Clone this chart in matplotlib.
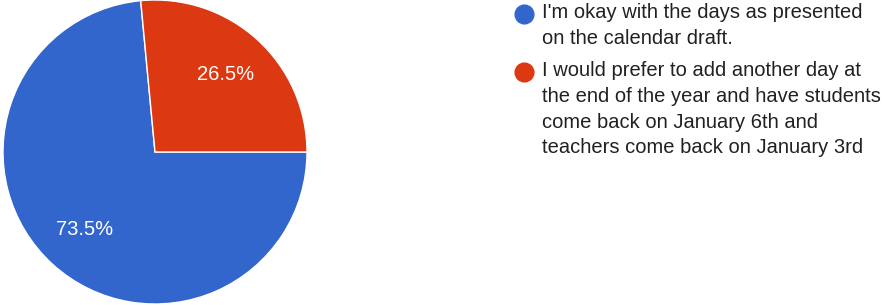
# survey pie chart with wrapped legend on the right

import matplotlib.pyplot as plt

plt.rcParams['font.family'] = ['Liberation Sans', 'DejaVu Sans']

# Responses
labels = [
    "I'm okay with the days as presented\non the calendar draft.",
    "I would prefer to add another day at\nthe end of the year and have students\ncome back on January 6th and\nteachers come back on January 3rd",
]
shares = [73.5, 26.5]
colors = ['#3366CC', '#DC3912']

fig = plt.figure(figsize=(8.84, 3.05), dpi=100)

# pie on the left
ax = fig.add_axes([3 / 884, 1 / 305, 304 / 884, 304 / 305])
ax.pie(
    shares, colors=colors, startangle=0, counterclock=False,
    autopct='%.1f%%', pctdistance=0.69, radius=1,
    wedgeprops=dict(edgecolor='white', linewidth=1),
    textprops=dict(color='white', fontsize=14.5),
)
ax.set_xlim(-1, 1)
ax.set_ylim(-1, 1)
ax.set_aspect('equal')

# legend drawn in pixel coordinates
leg = fig.add_axes([0, 0, 1, 1])
leg.set_xlim(0, 884)
leg.set_ylim(305, 0)
leg.axis('off')
y = 14
for lab, col in zip(labels, colors):
    leg.plot(524, y, 'o', color=col, markersize=13.5)
    leg.text(542, y - 11, lab, fontsize=14.5, color='#212121', va='top',
             linespacing=1.45)
    y += 25 * lab.count('\n') + 33

fig.savefig('out.png', dpi=100)
